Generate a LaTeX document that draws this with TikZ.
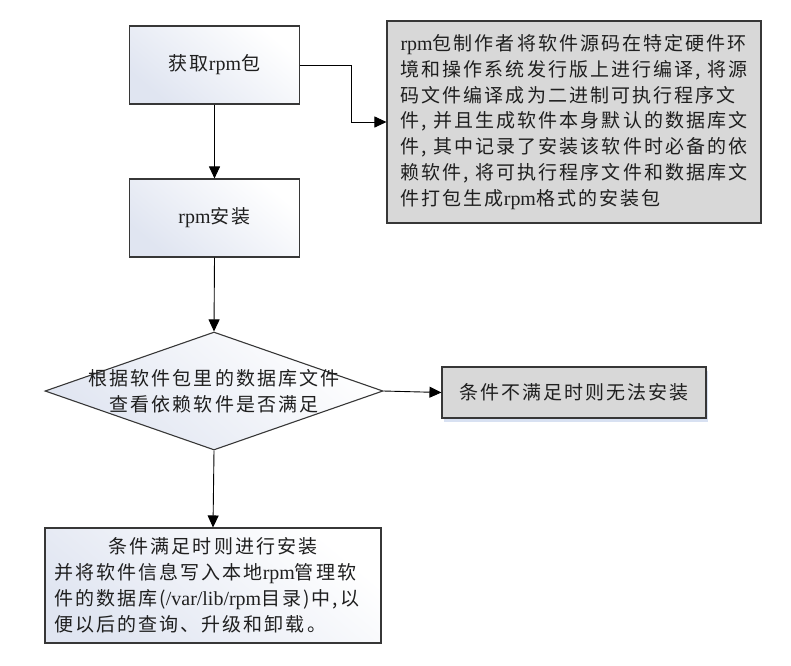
\documentclass[tikz,border=0pt]{standalone}
\usepackage{fontspec}
\setmainfont{Noto Sans CJK SC}[LetterSpace=11]
\newfontfamily\lat{Liberation Serif}[Scale=1.05]
\usetikzlibrary{arrows.meta,shapes.geometric,shadows}
\definecolor{edgec}{RGB}{55,55,55}
\definecolor{grayfill}{RGB}{216,216,216}
\definecolor{shadeblue}{RGB}{224,229,241}
\definecolor{shadowblue}{RGB}{200,212,236}
\tikzset{
  flowbox/.style={draw=edgec, line width=1.1pt, top color=white, bottom color=shadeblue, shading angle=-40, inner sep=0pt},
  graybox/.style={draw=edgec, line width=1.1pt, fill=grayfill, inner sep=0pt},
  txt/.style={font=\fontsize{19}{25.8}\selectfont, text=black!88},
  arr/.style={draw=black, line width=0.9pt, -{Triangle[length=12pt,width=11pt]}},
}
\begin{document}
\begin{tikzpicture}[x=1pt,y=-1pt]
\useasboundingbox (0,0) rectangle (791,665);
\node[flowbox, txt, minimum width=170pt, minimum height=78pt] (get) at (214.5,65) {获取{\lat rpm}包};
\node[flowbox, txt, minimum width=170pt, minimum height=78pt] (inst) at (214.5,218) {{\lat rpm}安装};
\node[graybox, txt, minimum width=374pt, minimum height=202pt, align=left] (desc) at (574,122)
 {{\lat rpm}包制作者将软件源码在特定硬件环\\
  境和操作系统发行版上进行编译, 将源\\
  码文件编译成为二进制可执行程序文\\
  件, 并且生成软件本身默认的数据库文\\
  件, 其中记录了安装该软件时必备的依\\
  赖软件, 将可执行程序文件和数据库文\\
  件打包生成{\lat rpm}格式的安装包};
\node[diamond, flowbox, minimum width=338pt, minimum height=118pt] (chk) at (214,391) {};
\node[txt, align=center] (chktext) at (chk.center) {根据软件包里的数据库文件\\查看依赖软件是否满足};
\node[graybox, txt, minimum width=264pt, minimum height=51pt,
      drop shadow={shadow xshift=1.5pt, shadow yshift=-4pt, fill=shadowblue, opacity=0.7}] (fail) at (574,392.5) {条件不满足时则无法安装};
\node[flowbox, txt, minimum width=336pt, minimum height=115pt, align=left] (final) at (213,585.5)
 {\makebox[318pt][c]{条件满足时则进行安装}\\
  并将软件信息写入本地{\lat rpm}管理软\\
  件的数据库({\lat /var/lib/rpm}目录)中,以\\
  便以后的查询、升级和卸载。};
\coordinate (bend) at (351,65);
\draw[arr] (get.south) -- (inst.north);
\draw[arr] (get.east) -- (bend) |- (desc.west);
\draw[arr] (inst.south) -- (chk.north);
\draw[arr] (chk.east) -- (fail.west);
\draw[arr] (chk.south) -- (final.north);
\end{tikzpicture}
\end{document}
